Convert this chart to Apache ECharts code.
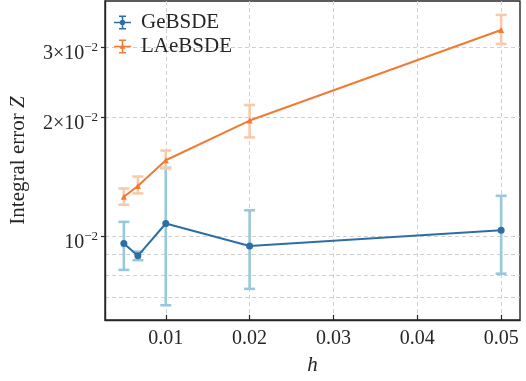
<!DOCTYPE html>
<html>
<head>
<meta charset="utf-8">
<script src="https://cdn.jsdelivr.net/npm/echarts@6/dist/echarts.min.js"></script>
<style>html,body{margin:0;padding:0;background:#fff}#c{width:526px;height:381px}</style>
</head>
<body>
<div id="c"></div>
<script>
const hValues = [0.005, 0.00667, 0.01, 0.02, 0.05];
const geMean = [0.00960, 0.00893, 0.01078, 0.00946, 0.01037];
const geLow  = [0.00823, 0.00871, 0.00670, 0.00737, 0.00805];
const geHigh = [0.01088, 0.00915, 0.01490, 0.01164, 0.01266];
const laMean = [0.01259, 0.01341, 0.01557, 0.01961, 0.03319];
const laLow  = [0.01202, 0.01284, 0.01485, 0.01778, 0.03062];
const laHigh = [0.01321, 0.01416, 0.01647, 0.02147, 0.03625];
const xTickValues = [0.01, 0.02, 0.03, 0.04, 0.05];
const xTickLabels = ['0.01', '0.02', '0.03', '0.04', '0.05'];
const yMinorGridValues = [0.007, 0.008, 0.009];
const yTickValues = [0.01, 0.02, 0.03];
const yTickLabels = ['{m|10}{sup|\u22122}', '{m|2\u00d710}{sup|\u22122}', '{m|3\u00d710}{sup|\u22122}'];

const FONT = '"Liberation Serif", "DejaVu Serif", serif';
const INK = '#262626';
const GRID = '#cbcbcb';
const blue = '#2f6ea3', blueErr = '#98c8d9';
const orange = '#ef7b34', orangeErr = '#f9caa9';
const Y_MIN = 0.00615, Y_MAX = 0.0393;

function errRender(color) {
  return function (params, api) {
    const lo = api.coord([api.value(0), api.value(1)]);
    const hi = api.coord([api.value(0), api.value(2)]);
    const hw = 5.5;
    const st = { stroke: color, lineWidth: 2.6 };
    return { type: 'group', children: [
      { type: 'line', shape: { x1: lo[0], y1: lo[1], x2: hi[0], y2: hi[1] }, style: st },
      { type: 'line', shape: { x1: lo[0] - hw, y1: lo[1], x2: lo[0] + hw, y2: lo[1] }, style: st },
      { type: 'line', shape: { x1: hi[0] - hw, y1: hi[1], x2: hi[0] + hw, y2: hi[1] }, style: st }
    ]};
  };
}
const pts = (ys) => hValues.map((x, i) => [x, ys[i]]);
const errs = (lo, hi) => hValues.map((x, i) => [x, lo[i], hi[i]]);

const iconBase = 'M0,6.3 H17 V7.7 H0 Z M7.7,1 H9.3 V13 H7.7 Z M5,0 H12 V1.4 H5 Z M5,12.6 H12 V14 H5 Z ';
const iconBlue = 'path://' + iconBase + 'M11.3,7 A2.8,2.8 0 1 1 5.7,7 A2.8,2.8 0 1 1 11.3,7 Z';
const iconOrange = 'path://' + iconBase + 'M8.5,4 L11.3,9.2 L5.7,9.2 Z';

const chart = echarts.init(document.getElementById('c'));
chart.setOption({
  animation: false,
  textStyle: { fontFamily: FONT },
  grid: { left: 104, right: 6, top: 1, bottom: 59, show: true, borderColor: INK, borderWidth: 1.4, backgroundColor: 'transparent' },
  legend: {
    orient: 'vertical', left: 114, top: 12, padding: 0, itemWidth: 17, itemHeight: 14, itemGap: 3,
    textStyle: { fontFamily: FONT, fontSize: 21, color: INK, lineHeight: 21, padding: [0, 0, 0, 5] },
    data: [
      { name: 'GeBSDE', icon: iconBlue, itemStyle: { color: blue } },
      { name: 'LAeBSDE', icon: iconOrange, itemStyle: { color: orange } }
    ]
  },
  xAxis: {
    type: 'value', min: 0.00275, max: 0.05225,
    name: '{i|h}', nameLocation: 'middle', nameGap: 35,
    nameTextStyle: { rich: { i: { fontFamily: FONT, fontSize: 21, fontStyle: 'italic', color: INK } } },
    axisLine: { show: true, lineStyle: { color: INK, width: 1.4 } },
    axisTick: { show: true, inside: true, length: 5, customValues: xTickValues, lineStyle: { color: INK, width: 1.2 } },
    axisLabel: { customValues: xTickValues, margin: 9, fontFamily: FONT, fontSize: 20, color: INK,
      formatter: (v) => { const i = xTickValues.findIndex(t => Math.abs(t - v) < 1e-9); return i >= 0 ? xTickLabels[i] : ''; } },
    splitLine: { show: true, lineStyle: { color: GRID, width: 0.9, type: [4, 3] } }
  },
  yAxis: [{
    type: 'log', logBase: 10, min: Y_MIN, max: Y_MAX, position: 'left',
    name: 'Integral error {i|Z}', nameLocation: 'middle', nameGap: 76, nameRotate: 90,
    nameTextStyle: { fontFamily: FONT, fontSize: 21, color: INK,
      rich: { i: { fontFamily: FONT, fontSize: 21, fontStyle: 'italic', color: INK } } },
    axisLine: { show: true, lineStyle: { color: INK, width: 1.4 } },
    axisTick: { show: true, length: 4, customValues: yTickValues, lineStyle: { color: INK, width: 1.2 } },
    axisLabel: { customValues: yTickValues, margin: 7, fontFamily: FONT, fontSize: 20, color: INK,
      formatter: (v) => { const i = yTickValues.findIndex(t => Math.abs(t - v) / t < 1e-6); return i >= 0 ? yTickLabels[i] : ''; },
      rich: {
        m: { fontFamily: FONT, fontSize: 20, color: INK, padding: [13, 0, 0, 0] },
        sup: { fontFamily: FONT, fontSize: 13, color: INK, padding: [0, 0, 0, 0] }
      } },
    splitLine: { show: true, lineStyle: { color: GRID, width: 0.9, type: [4, 3] } },
    minorTick: { show: false }, minorSplitLine: { show: false }
  }, {
    type: 'log', logBase: 10, min: Y_MIN, max: Y_MAX, position: 'left',
    axisLine: { show: false },
    axisTick: { show: false, customValues: yMinorGridValues },
    axisLabel: { show: false, customValues: yMinorGridValues },
    splitLine: { show: true, lineStyle: { color: GRID, width: 0.9, type: [4, 3] } },
    minorTick: { show: false }, minorSplitLine: { show: false }
  }],
  series: [
    { name: 'GeBSDE err', type: 'custom', renderItem: errRender(blueErr), data: errs(geLow, geHigh),
      encode: { x: 0, y: [1, 2] }, z: 2, silent: true },
    { name: 'GeBSDE', type: 'line', data: pts(geMean), symbol: 'circle', symbolSize: 7,
      lineStyle: { color: blue, width: 2 }, itemStyle: { color: blue }, z: 3 },
    { name: 'LAeBSDE err', type: 'custom', renderItem: errRender(orangeErr), data: errs(laLow, laHigh),
      encode: { x: 0, y: [1, 2] }, z: 4, silent: true },
    { name: 'LAeBSDE', type: 'line', data: pts(laMean), symbol: 'triangle', symbolSize: 6,
      lineStyle: { color: orange, width: 2 }, itemStyle: { color: orange }, z: 5 }
  ]
});
</script>
</body>
</html>
